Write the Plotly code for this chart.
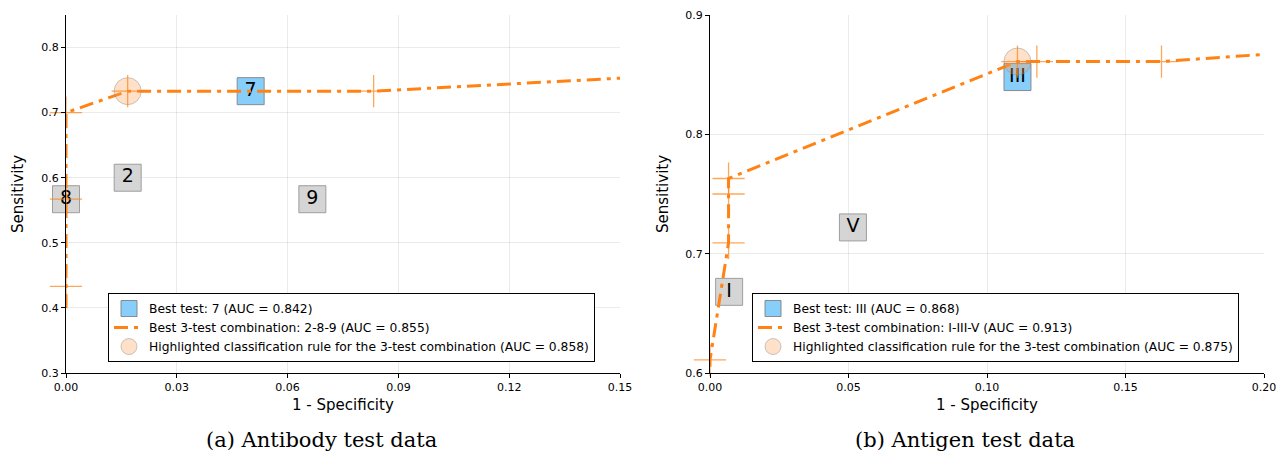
import plotly.graph_objects as go

# ---------------- Data: (a) Antibody ----------------
ab_curve_x = [0.0, 0.0, 0.0, 0.0, 0.0167, 0.0833, 0.15]
ab_curve_y = [0.40, 0.433, 0.567, 0.70, 0.733, 0.733, 0.753]
ab_cross_x = [0.0, 0.0, 0.0, 0.0167, 0.0833]
ab_cross_y = [0.433, 0.567, 0.70, 0.733, 0.733]
ab_tests_label = ["2", "8", "9"]
ab_tests_x = [0.0167, 0.0, 0.0667]
ab_tests_y = [0.60, 0.567, 0.567]
ab_best_label = ["7"]
ab_best_x = [0.05]
ab_best_y = [0.733]
ab_high_x = [0.0167]
ab_high_y = [0.733]
ab_names = ["Best test: 7 (AUC = 0.842)",
            "Best 3-test combination: 2-8-9 (AUC = 0.855)",
            "Highlighted classification rule for the 3-test combination (AUC = 0.858)"]
ab_xticks = [0.0, 0.03, 0.06, 0.09, 0.12, 0.15]
ab_yticks = [0.3, 0.4, 0.5, 0.6, 0.7, 0.8]

# ---------------- Data: (b) Antigen ----------------
ag_curve_x = [0.0, 0.0, 0.0067, 0.0067, 0.0067, 0.111, 0.118, 0.163, 0.20]
ag_curve_y = [0.58, 0.611, 0.709, 0.750, 0.763, 0.861, 0.861, 0.861, 0.867]
ag_cross_x = [0.0, 0.0067, 0.0067, 0.0067, 0.111, 0.118, 0.163]
ag_cross_y = [0.611, 0.709, 0.750, 0.763, 0.861, 0.861, 0.861]
ag_tests_label = ["I", "V"]
ag_tests_x = [0.0069, 0.0516]
ag_tests_y = [0.668, 0.722]
ag_best_label = ["III"]
ag_best_x = [0.111]
ag_best_y = [0.848]
ag_high_x = [0.111]
ag_high_y = [0.861]
ag_names = ["Best test: III (AUC = 0.868)",
            "Best 3-test combination: I-III-V (AUC = 0.913)",
            "Highlighted classification rule for the 3-test combination (AUC = 0.875)"]
ag_xticks = [0.0, 0.05, 0.10, 0.15, 0.20]
ag_yticks = [0.6, 0.7, 0.8, 0.9]

ORANGE = "#ff8213"
CROSS = "rgba(255,130,19,0.7)"
BLUE = "#87cefa"
GRAY = "rgba(208,208,208,0.9)"
PEACH = "rgba(255,160,90,0.33)"
FONT = "DejaVu Sans"

fig = go.Figure()


def add_panel(xa, ya, leg, cx, cy, crx, cry, tl, tx, ty, bl, bx, by, hx, hy, names):
    # other single tests (gray boxes)
    fig.add_trace(go.Scatter(x=tx, y=ty, mode="markers", xaxis=xa, yaxis=ya, cliponaxis=False,
                             marker=dict(symbol="square", size=27, color=GRAY,
                                         line=dict(color="rgba(150,150,150,0.9)", width=1)),
                             showlegend=False, hoverinfo="skip"))
    fig.add_trace(go.Scatter(x=tx, y=ty, mode="text", text=tl, xaxis=xa, yaxis=ya, cliponaxis=False,
                             textfont=dict(family=FONT, size=19, color="black"),
                             showlegend=False, hoverinfo="skip"))
    # best test
    fig.add_trace(go.Scatter(x=bx, y=by, mode="markers", xaxis=xa, yaxis=ya, legend=leg,
                             name=names[0], cliponaxis=False,
                             marker=dict(symbol="square", size=27, color=BLUE,
                                         line=dict(color="rgba(130,130,130,0.9)", width=1))))
    fig.add_trace(go.Scatter(x=bx, y=by, mode="text", text=bl, xaxis=xa, yaxis=ya, cliponaxis=False,
                             textfont=dict(family=FONT, size=19, color="black"),
                             showlegend=False, hoverinfo="skip"))
    # curve
    fig.add_trace(go.Scatter(x=cx, y=cy, mode="lines", xaxis=xa, yaxis=ya, legend=leg,
                             name=names[1],
                             line=dict(color=ORANGE, width=3, dash="14px,6px,4px,6px")))
    # highlighted rule
    fig.add_trace(go.Scatter(x=hx, y=hy, mode="markers", xaxis=xa, yaxis=ya, legend=leg,
                             name=names[2], cliponaxis=False,
                             marker=dict(symbol="circle", size=27, color=PEACH,
                                         line=dict(color="rgba(140,140,140,0.45)", width=1))))
    # crosses
    fig.add_trace(go.Scatter(x=crx, y=cry, mode="markers", xaxis=xa, yaxis=ya, cliponaxis=False,
                             marker=dict(symbol="cross-thin", size=23,
                                         line=dict(color=CROSS, width=1.3)),
                             showlegend=False, hoverinfo="skip"))


add_panel("x", "y", "legend", ab_curve_x, ab_curve_y, ab_cross_x, ab_cross_y,
          ab_tests_label, ab_tests_x, ab_tests_y, ab_best_label, ab_best_x, ab_best_y,
          ab_high_x, ab_high_y, ab_names)
add_panel("x2", "y2", "legend2", ag_curve_x, ag_curve_y, ag_cross_x, ag_cross_y,
          ag_tests_label, ag_tests_x, ag_tests_y, ag_best_label, ag_best_x, ag_best_y,
          ag_high_x, ag_high_y, ag_names)

W, H = 1279, 455
ydom = [(H - 373) / H, (H - 15) / H]

axis_common = dict(showgrid=True, gridcolor="rgba(0,0,0,0.08)", gridwidth=1,
                   showline=True, linecolor="black", linewidth=1,
                   ticks="outside", ticklen=4, tickcolor="black",
                   tickfont=dict(family=FONT, size=11, color="black"),
                   zeroline=False, automargin=False, mirror=False)

legend_common = dict(xanchor="left", yanchor="bottom", y=(H - 362) / H,
                     bgcolor="white", bordercolor="black", borderwidth=1,
                     font=dict(family=FONT, size=12.3, color="black"), tracegroupgap=0)

fig.update_layout(
    width=W, height=H,
    margin=dict(l=0, r=0, t=0, b=0),
    paper_bgcolor="white", plot_bgcolor="white",
    xaxis=dict(domain=[66 / W, 620 / W], range=[0, 0.15], tickvals=ab_xticks,
               tickformat=".2f", anchor="y", **axis_common),
    yaxis=dict(domain=ydom, range=[0.3, 0.85], tickvals=ab_yticks,
               tickformat=".1f", anchor="x", **axis_common),
    xaxis2=dict(domain=[710 / W, 1264 / W], range=[0, 0.20], tickvals=ag_xticks,
                tickformat=".2f", anchor="y2", **axis_common),
    yaxis2=dict(domain=ydom, range=[0.6, 0.9], tickvals=ag_yticks,
                tickformat=".1f", anchor="x2", **axis_common),
    legend=dict(x=108 / W, **legend_common),
    legend2=dict(x=752 / W, **legend_common),
    showlegend=True,
)

annos = [
    dict(text="Sensitivity", x=18 / W, y=(H - 194) / H, textangle=-90),
    dict(text="Sensitivity", x=663 / W, y=(H - 194) / H, textangle=-90),
    dict(text="1 - Specificity", x=343 / W, y=(H - 405) / H),
    dict(text="1 - Specificity", x=987 / W, y=(H - 405) / H),
]
for a in annos:
    fig.add_annotation(xref="paper", yref="paper", showarrow=False,
                       xanchor="center", yanchor="middle",
                       font=dict(family=FONT, size=15, color="black"), **a)

for txt, xc in [("(a) Antibody test data", 321), ("(b) Antigen test data", 965)]:
    fig.add_annotation(xref="paper", yref="paper", showarrow=False,
                       x=xc / W, y=(H - 440) / H, xanchor="center", yanchor="middle",
                       text=txt, font=dict(family="DejaVu Serif", size=21, color="black"))

fig.write_html("out.html", config={"displayModeBar": False},
               post_script="document.body.style.margin='0px';")
